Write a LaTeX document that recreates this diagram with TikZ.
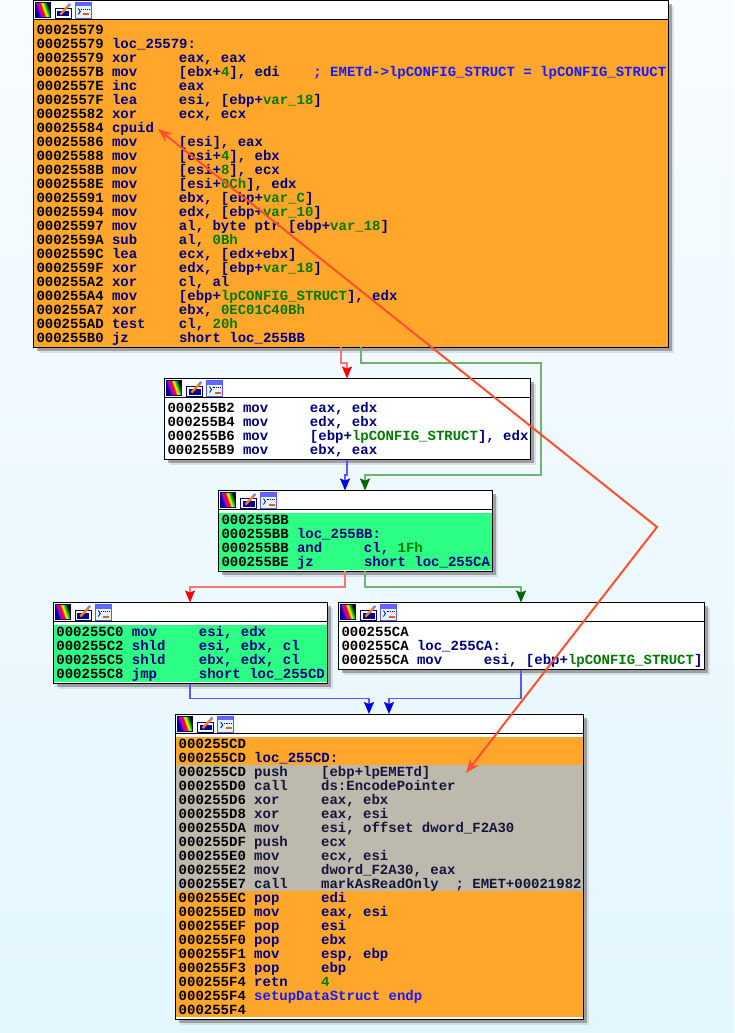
\documentclass[tikz,border=0pt]{standalone}
\usepackage{fontspec}
\usepackage{xcolor}
\usepackage{tikz}
\usetikzlibrary{arrows.meta,calc,shadows}
\newfontfamily\asmfont{Liberation Mono}
\definecolor{asmorange}{HTML}{FFA62B}
\definecolor{asmgreen}{HTML}{2DFF85}
\definecolor{asmgray}{HTML}{BDB9AD}
\definecolor{asmnavy}{HTML}{000080}
\definecolor{asmdark}{HTML}{15153A}
\definecolor{asmnum}{HTML}{007A00}
\definecolor{asmcmt}{HTML}{1A1AFF}
\definecolor{notered}{HTML}{FF5030}
\definecolor{pagetop}{HTML}{F8FCFF}
\definecolor{pagebot}{HTML}{E3F6FE}
\pgfdeclarehorizontalshading{rainbowbar}{100bp}{
  color(0bp)=(black); color(30bp)=(blue!70!black); color(40bp)=(magenta!80!black);
  color(48bp)=(red); color(55bp)=(yellow); color(63bp)=(green!80!black); color(72bp)=(black); color(100bp)=(black)}
\newcommand{\num}[1]{{\color{asmnum}#1}}
\newcommand{\cmt}[1]{{\color{asmcmt}#1}}
% one listing row: address, mnemonic, operands
\newcommand{\asmrow}[3]{\rule[-3.5pt]{0pt}{14pt}\makebox[75.5pt][l]{\color{black}#1}{\color{asmnavy}\makebox[67pt][l]{#2}#3}}
\newcommand{\asmrowg}[3]{\rule[-3.5pt]{0pt}{14pt}\makebox[75.5pt][l]{\color{black}#1}{\color{asmdark}\makebox[67pt][l]{#2}#3}}
% frame: name, x, y, w, h, band colour, band top, band gap at the bottom
\newcommand{\asmblock}[8]{
  \node[block, minimum width=#4, minimum height=#5] (#1) at (#2,#3) {};
  \fill[#6] ($(#1.north west)+(0.5,#7)$) rectangle ($(#1.south east)+(-0.5,-#8)$);
  \draw[frame] (#1.north west) rectangle (#1.south east);
  \draw[frame] ($(#1.north west)+(0,19)$) -- ($(#1.north east)+(0,19)$);
  \pic at (#1.north west) {blockicons};
}
\begin{document}
\begin{tikzpicture}[x=1pt, y=-1pt,
    block/.style={anchor=north west, fill=white, inner sep=0pt, outer sep=0pt,
                  drop shadow={shadow xshift=5.5pt, shadow yshift=-5.5pt, fill=black!22},
                  drop shadow={shadow xshift=3.5pt, shadow yshift=-3.5pt, fill=black!62}},
    frame/.style={draw=black, line width=1pt},
    code/.style={anchor=north west, inner sep=0pt, outer sep=0pt, align=left,
                 font=\asmfont\bfseries\fontsize{14}{14}\selectfont},
    blueedge/.style={draw=blue!65!white, line width=1.5pt,
                  -{Stealth[length=12pt, width=10pt, inset=2pt, color=blue!90!black]}},
    rededge/.style={draw=red!55!white, line width=1.5pt,
                  -{Stealth[length=12pt, width=10pt, inset=2pt, color=red]}},
    greenedge/.style={draw=green!45!black!55!white, line width=1.5pt,
                  -{Stealth[length=12pt, width=10pt, inset=2pt, color=green!40!black]}},
    note/.style={draw=notered, line width=2pt,
                 {Stealth[length=14pt, width=11pt]}-{Stealth[length=14pt, width=11pt]}},
    blockicons/.pic={
      % colour picker
      \shade[shading=rainbowbar, shading angle=20] (2,2) rectangle (17,17);
      \draw[asmnavy, line width=1pt] (2,2) rectangle (17,17);
      % pencil
      \fill[white] (22,8) rectangle (38,18);
      \draw[asmnavy, line width=1pt] (22,8) rectangle (38,18);
      \fill[asmnavy!80!blue] (24,10.5) rectangle (36,16);
      \draw[orange, line width=2.4pt] (27,14) -- (35,5.5);
      \draw[blue!50!white, line width=2.4pt] (34.5,6) -- (36.8,3.5);
      % graph window
      \fill[cyan!12!white] (42,2) rectangle (58,18);
      \fill[blue!60!white] (42,2) rectangle (58,6);
      \draw[blue!65!white, line width=1pt] (42,2) rectangle (58,18);
      \draw[asmnavy, line width=0.8pt] (45,8) -- (47,11) -- (45,14);
      \draw[asmnavy, line width=0.8pt, densely dotted] (48,9) -- (56,9);
      \fill[orange!70!red] (50,13) rectangle (56,15);
    }
  ]
  % page
  \shade[top color=pagetop, bottom color=pagebot, draw=none]
    (0,0) rectangle (734,1033);
  \useasboundingbox (0,0) rectangle (734,1033);

  % blocks
  \asmblock{b579}{33.3}{0.5}{635pt}{346.5pt}{asmorange}{19.5}{0.5}
  \asmblock{b5b2}{164.5}{378.5}{366pt}{81pt}{white}{20}{2}
  \asmblock{b5bb}{218.5}{490.5}{274pt}{80.5pt}{asmgreen}{22.5}{1}
  \asmblock{b5c0}{53.3}{602.5}{274pt}{81pt}{asmgreen}{22.5}{2}
  \asmblock{b5ca}{338.5}{602.5}{366.3pt}{67pt}{white}{20}{2}
  \asmblock{b5cd}{175.7}{714}{408pt}{305pt}{asmorange}{22.5}{2}
  \fill[asmgray] ($(b5cd.north west)+(0.5,51)$) rectangle ($(b5cd.north east)+(-0.5,177)$);

  % listings
  \node[code] (t579) at (36.5,24) {%
    \asmrow{00025579}{}{}\\
    \asmrow{00025579}{loc\_25579:}{}\\
    \asmrow{00025579}{xor}{eax, eax}\\
    \asmrow{0002557B}{mov}{[ebx+\num{4}], edi\ \ \ \ \cmt{; EMETd->lpCONFIG\_STRUCT = lpCONFIG\_STRUCT}}\\
    \asmrow{0002557E}{inc}{eax}\\
    \asmrow{0002557F}{lea}{esi, [ebp+\num{var\_18}]}\\
    \asmrow{00025582}{xor}{ecx, ecx}\\
    \asmrow{00025584}{cpuid}{}\\
    \asmrow{00025586}{mov}{[esi], eax}\\
    \asmrow{00025588}{mov}{[esi+\num{4}], ebx}\\
    \asmrow{0002558B}{mov}{[esi+\num{8}], ecx}\\
    \asmrow{0002558E}{mov}{[esi+\num{0Ch}], edx}\\
    \asmrow{00025591}{mov}{ebx, [ebp+\num{var\_C}]}\\
    \asmrow{00025594}{mov}{edx, [ebp+\num{var\_10}]}\\
    \asmrow{00025597}{mov}{al, byte ptr [ebp+\num{var\_18}]}\\
    \asmrow{0002559A}{sub}{al, \num{0Bh}}\\
    \asmrow{0002559C}{lea}{ecx, [edx+ebx]}\\
    \asmrow{0002559F}{xor}{edx, [ebp+\num{var\_18}]}\\
    \asmrow{000255A2}{xor}{cl, al}\\
    \asmrow{000255A4}{mov}{[ebp+\num{lpCONFIG\_STRUCT}], edx}\\
    \asmrow{000255A7}{xor}{ebx, \num{0EC01C40Bh}}\\
    \asmrow{000255AD}{test}{cl, \num{20h}}\\
    \asmrow{000255B0}{jz}{short loc\_255BB}};
  \node[code] (t5b2) at (167.5,402) {%
    \asmrow{000255B2}{mov}{eax, edx}\\
    \asmrow{000255B4}{mov}{edx, ebx}\\
    \asmrow{000255B6}{mov}{[ebp+\num{lpCONFIG\_STRUCT}], edx}\\
    \asmrow{000255B9}{mov}{ebx, eax}};
  \node[code] (t5bb) at (221.5,514) {%
    \asmrow{000255BB}{}{}\\
    \asmrow{000255BB}{loc\_255BB:}{}\\
    \asmrow{000255BB}{and}{cl, \num{1Fh}}\\
    \asmrow{000255BE}{jz}{short loc\_255CA}};
  \node[code] (t5c0) at (56.4,626) {%
    \asmrow{000255C0}{mov}{esi, edx}\\
    \asmrow{000255C2}{shld}{esi, ebx, cl}\\
    \asmrow{000255C5}{shld}{ebx, edx, cl}\\
    \asmrow{000255C8}{jmp}{short loc\_255CD}};
  \node[code] (t5ca) at (341.5,626) {%
    \asmrow{000255CA}{}{}\\
    \asmrow{000255CA}{loc\_255CA:}{}\\
    \asmrow{000255CA}{mov}{esi, [ebp+\num{lpCONFIG\_STRUCT}]}};
  \node[code] (t5cd) at (178.7,738) {%
    \asmrow{000255CD}{}{}\\
    \asmrow{000255CD}{loc\_255CD:}{}\\
    \asmrowg{000255CD}{push}{[ebp+lpEMETd]}\\
    \asmrowg{000255D0}{call}{ds:EncodePointer}\\
    \asmrowg{000255D6}{xor}{eax, ebx}\\
    \asmrowg{000255D8}{xor}{eax, esi}\\
    \asmrowg{000255DA}{mov}{esi, offset dword\_F2A30}\\
    \asmrowg{000255DF}{push}{ecx}\\
    \asmrowg{000255E0}{mov}{ecx, esi}\\
    \asmrowg{000255E2}{mov}{dword\_F2A30, eax}\\
    \asmrowg{000255E7}{call}{markAsReadOnly\ \ ; EMET+00021982}\\
    \asmrow{000255EC}{pop}{edi}\\
    \asmrow{000255ED}{mov}{eax, esi}\\
    \asmrow{000255EF}{pop}{esi}\\
    \asmrow{000255F0}{pop}{ebx}\\
    \asmrow{000255F1}{mov}{esp, ebp}\\
    \asmrow{000255F3}{pop}{ebp}\\
    \asmrow{000255F4}{retn}{\num{4}}\\
    \asmrow{000255F4}{\cmt{setupDataStruct endp}}{}\\
    \asmrow{000255F4}{}{}};

  % connectors
  \draw[rededge] ($(b579.south west)+(307.7,0)$) -- ++(0,16) -- ++(6,0)
    -- ($(b5b2.north west)+(182.5,0)$);
  \draw[greenedge] ($(b579.south west)+(327.7,0)$) -- ++(0,16) -- ++(180,0) -- ++(0,112)
    -| ($(b5bb.north west)+(146.5,0)$);
  \draw[blueedge] ($(b5b2.south west)+(182.5,0)$) -- ++(0,15.5) -- ++(-2,0)
    -- ($(b5bb.north west)+(126.5,0)$);
  \draw[rededge] ($(b5bb.south west)+(126.5,0)$) -- ++(0,16) -| ($(b5c0.north west)+(136.7,0)$);
  \draw[greenedge] ($(b5bb.south west)+(146.5,0)$) -- ++(0,16) -| ($(b5ca.north west)+(182.5,0)$);
  \draw[blueedge] ($(b5c0.south west)+(136.7,0)$) -- ++(0,15) -| ($(b5cd.north west)+(193.3,0)$);
  \draw[blueedge] ($(b5ca.south west)+(182.5,0)$) -- ++(0,29) -| ($(b5cd.north west)+(213.3,0)$);

  % annotation
  \coordinate (cpuidEnd) at (158,129);
  \coordinate (noteBend) at (657,527);
  \coordinate (readOnlyEnd) at (466,773);
  \draw[note] (cpuidEnd) -- (noteBend) -- (readOnlyEnd);
\end{tikzpicture}
\end{document}
